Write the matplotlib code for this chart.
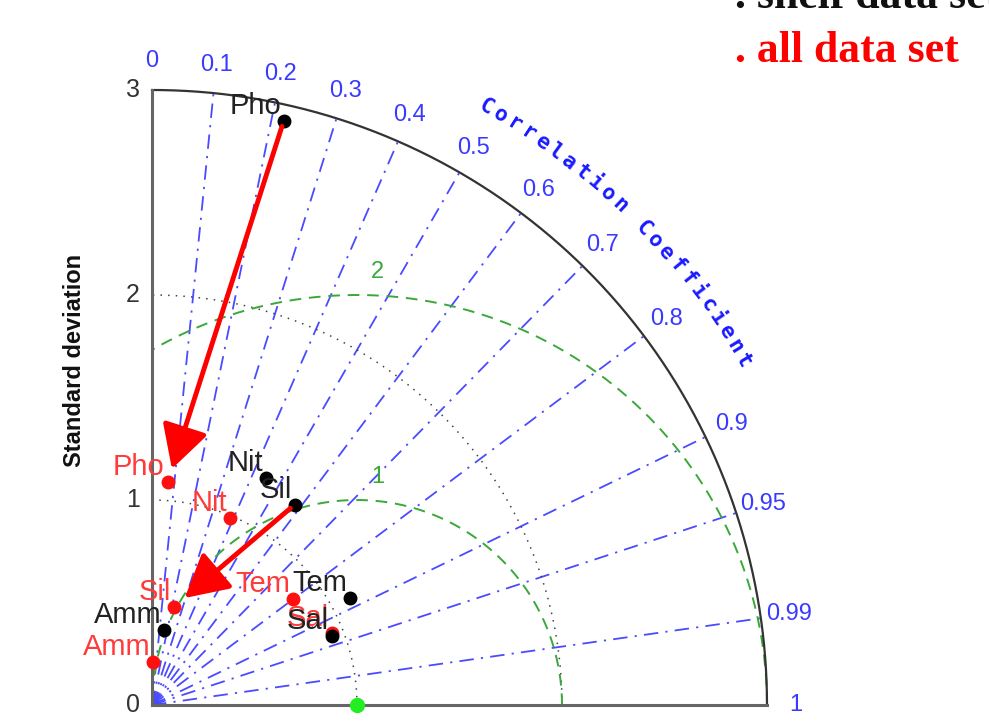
import numpy as np
import matplotlib
matplotlib.use("Agg")
import matplotlib.pyplot as plt

# ---------------- data ----------------
labels = ['Pho', 'Nit', 'Sil', 'Tem', 'Sal', 'Amm']
std_sub = [2.92, 1.24, 1.20, 1.10, 0.94, 0.37]
corr_sub = [0.22, 0.45, 0.58, 0.88, 0.934, 0.16]
std_all = [1.09, 0.99, 0.49, 0.86, 0.945, 0.21]
corr_all = [0.07, 0.385, 0.22, 0.80, 0.929, 0.03]
ref_std = 1.0
corr_ticks = [0, 0.1, 0.2, 0.3, 0.4, 0.5, 0.6, 0.7, 0.8, 0.9, 0.95, 0.99, 1]
corr_tick_labels = ['0', '0.1', '0.2', '0.3', '0.4', '0.5', '0.6', '0.7', '0.8',
                    '0.9', '0.95', '0.99', '1']
std_ticks = [0, 1, 2, 3]
std_arcs = [1, 2]
rms_levels = [1, 2]
rmax = 3.0
arrow_items = ['Pho', 'Sil']
title_sub = '. shelf data set'
title_all = '. all data set'

# ---------------- layout ----------------
W, H = 989, 727
S = 205.0          # pixels per std unit
ox, oy = 152, 705  # origin pixel
fig = plt.figure(figsize=(W / 100, H / 100), dpi=100)
ax = fig.add_axes([0, 0, 1, 1])
ax.set_xlim(-ox / S, (W - ox) / S)
ax.set_ylim((oy - H) / S, oy / S)
ax.axis('off')

def xy(s, c):
    th = np.arccos(np.clip(c, -1, 1))
    return s * np.cos(th), s * np.sin(th)

blue = '#4a4aff'
green = '#3aa83a'

# correlation lines
for c in corr_ticks[1:-1]:
    x1, y1 = xy(rmax, c)
    ax.plot([0, x1], [0, y1], color=blue, lw=1.3, ls=(0, (8, 4, 1.2, 4)), zorder=1)

# std dotted arcs
th = np.linspace(0, np.pi / 2, 400)
for r in std_arcs:
    ax.plot(r * np.cos(th), r * np.sin(th), color='#444444', lw=1.1,
            ls=(0, (1, 4)), zorder=1)

# RMS circles centred on reference
tt = np.linspace(0, np.pi, 800)
for r in rms_levels:
    x = ref_std + r * np.cos(tt)
    y = r * np.sin(tt)
    m = (x >= 0) & (np.hypot(x, y) <= rmax)
    x = np.where(m, x, np.nan)
    y = np.where(m, y, np.nan)
    ax.plot(x, y, color=green, lw=1.4, ls=(0, (6, 4)), zorder=1)
    ax.text(ref_std + 0.1, r + 0.11, str(r), color=green, fontsize=17,
            family='Liberation Sans', ha='center', va='center')

# outer arc and axes
ax.plot(rmax * np.cos(th), rmax * np.sin(th), color='#333333', lw=1.6, zorder=2)
ax.plot([0, 0], [0, rmax], color='#666666', lw=2.2, zorder=2)
ax.plot([0, rmax], [0, 0], color='#666666', lw=2.2, zorder=2)

# std tick labels
for v in std_ticks:
    ax.text(-0.06, v, str(v), color='#333333', fontsize=18, family='Liberation Sans',
            ha='right', va='center')
ax.text(-0.38, 1.68, 'Standard deviation', rotation=90, fontsize=17,
        fontweight='bold', family='Liberation Sans', ha='center', va='center',
        color='#111111')

# correlation tick labels
for c, lab in zip(corr_ticks, corr_tick_labels):
    x, y = xy(3.14, c)
    ax.text(x, y, lab, color='#3a3aff', fontsize=17, family='Liberation Sans',
            ha='center', va='center')

# curved "Correlation Coefficient"
word = 'Correlation Coefficient'
angs = np.linspace(60.8, 30.2, len(word))
for ch, a in zip(word, angs):
    ar = np.deg2rad(a)
    ax.text(3.34 * np.cos(ar), 3.34 * np.sin(ar), ch, rotation=a - 90,
            rotation_mode='anchor', ha='center', va='center', color='#1a1aff',
            fontsize=15.5, fontweight='bold', family='DejaVu Sans Mono')

# reference point
ax.plot([ref_std], [0], 'o', color='#22ee22', ms=10, zorder=6, clip_on=False)

# points
for lab, s, c in zip(labels, std_all, corr_all):
    x, y = xy(s, c)
    ax.plot([x], [y], 'o', color='#ff1010', ms=9, zorder=5)
    ax.annotate(lab, (x, y), xytext=(-2, 5), textcoords='offset points',
                ha='right', va='baseline', fontsize=21, color='#ff3a3a',
                family='Liberation Sans', zorder=5)
for lab, s, c in zip(labels, std_sub, corr_sub):
    x, y = xy(s, c)
    ax.plot([x], [y], 'o', color='black', ms=9, zorder=6)
    ax.annotate(lab, (x, y), xytext=(-2, 5), textcoords='offset points',
                ha='right', va='baseline', fontsize=21, color='#222222',
                family='Liberation Sans', zorder=6)

# arrows from sub to all
for lab in arrow_items:
    i = labels.index(lab)
    p0 = xy(std_sub[i], corr_sub[i])
    p1 = xy(std_all[i], corr_all[i])
    ax.annotate('', xy=p1, xytext=p0,
                arrowprops=dict(arrowstyle='-|>,head_length=1.1,head_width=0.6',
                                color='#ff0000', lw=3.5, mutation_scale=24,
                                shrinkA=4, shrinkB=10),
                zorder=7)

# legend-like texts
fig.text(735 / W, 1 - 8 / H, title_sub, color='#111111', fontsize=31.5,
         fontweight='bold', family='Liberation Serif', ha='left', va='baseline')
fig.text(735 / W, 1 - 62 / H, title_all, color='#ff0000', fontsize=31.5,
         fontweight='bold', family='Liberation Serif', ha='left', va='baseline')

fig.savefig('out.png', dpi=100)
